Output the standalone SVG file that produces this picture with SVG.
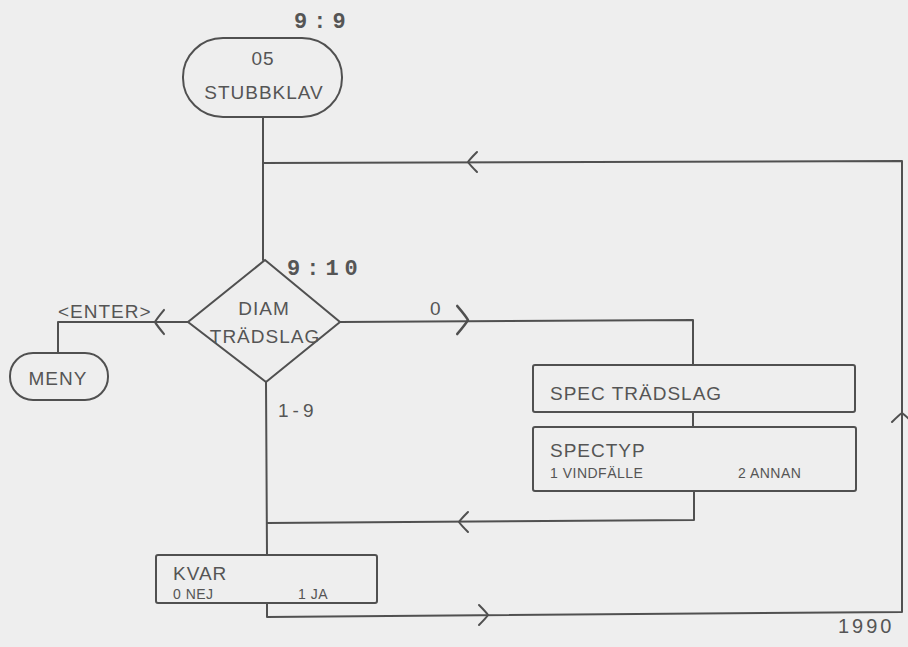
<svg xmlns="http://www.w3.org/2000/svg" xmlns:xlink="http://www.w3.org/1999/xlink" width="908" height="647" viewBox="0 0 908 647">
<style>
.ln{fill:none;stroke:#505050;stroke-width:2;stroke-linejoin:round;stroke-linecap:round}
.sh{fill:none;stroke:#505050;stroke-width:2}
.t{font-family:"Liberation Sans",Arial,sans-serif;font-size:19px;fill:#555;letter-spacing:1px}
.s{font-family:"Liberation Sans",Arial,sans-serif;font-size:14px;fill:#555;letter-spacing:0.5px}
.b{font-family:"Liberation Mono","Courier New",monospace;font-weight:bold;font-size:22px;fill:#555;letter-spacing:6px}
.m{text-anchor:middle}
</style>
<defs>
<path id="chev" d="M9,-10 Q2,-3 0,0 Q2,3 9,10" class="ln"/>
</defs>
<rect width="908" height="647" fill="#eeeeee"/>
<g id="connectors">
<path class="ln" d="M263,117 L263,260"/>
<path class="ln" d="M263,163 L902,161 L902,612 L267,617 L267,603"/>
<path class="ln" d="M188,322 L58,322 L58,353"/>
<path class="ln" d="M340,322 L693,320 L693,365"/>
<path class="ln" d="M693,412 L693,427"/>
<path class="ln" d="M694,491 L694,520 L267,523"/>
<path class="ln" d="M266,382 L267,555"/>
<use xlink:href="#chev" transform="translate(468,162)"/>
<use xlink:href="#chev" transform="translate(902,413) rotate(90)"/>
<use xlink:href="#chev" transform="translate(488,615) rotate(180)"/>
<use xlink:href="#chev" transform="translate(468,320) rotate(180) scale(1.2,1.4)"/>
<use xlink:href="#chev" transform="translate(155,322) scale(1,1.2)"/>
<use xlink:href="#chev" transform="translate(459,522)"/>
</g>
<text class="b" x="294" y="28">9:9</text>
<g id="stubbklav">
<rect class="sh" x="183" y="38" width="159" height="79" rx="40" ry="39"/>
<text class="t m" x="263" y="65">05</text>
<text class="t m" x="264" y="99">STUBBKLAV</text>
</g>
<g id="diam">
<path class="sh" d="M265,260 L340,322 L266,382 L188,322 Z"/>
<text class="b" x="287" y="275">9:10</text>
<text class="t m" x="264" y="315">DIAM</text>
<text class="t m" x="265" y="343">TRÄDSLAG</text>
</g>
<g id="meny">
<rect class="sh" x="10" y="353" width="98" height="47" rx="23" ry="23"/>
<text class="t m" x="58" y="385">MENY</text>
</g>
<g id="labels">
<text class="t" x="58" y="318">&lt;ENTER&gt;</text>
<text class="t" x="278" y="417" style="letter-spacing:4px">1-9</text>
<text class="t" x="430" y="315">0</text>
<text class="t" x="838" y="633" style="letter-spacing:3px;font-size:20px">1990</text>
</g>
<g id="spec">
<rect class="sh" x="533" y="365" width="322" height="47" rx="2"/>
<text class="t" x="550" y="400">SPEC TRÄDSLAG</text>
</g>
<g id="spectyp">
<rect class="sh" x="533" y="427" width="323" height="64" rx="2"/>
<text class="t" x="550" y="457">SPECTYP</text>
<text class="s" x="550" y="478">1 VINDFÄLLE</text>
<text class="s" x="738" y="478">2 ANNAN</text>
</g>
<g id="kvar">
<rect class="sh" x="156" y="555" width="221" height="48" rx="2"/>
<text class="t" x="173" y="580">KVAR</text>
<text class="s" x="173" y="599">0 NEJ</text>
<text class="s" x="298" y="599">1 JA</text>
</g>
</svg>
